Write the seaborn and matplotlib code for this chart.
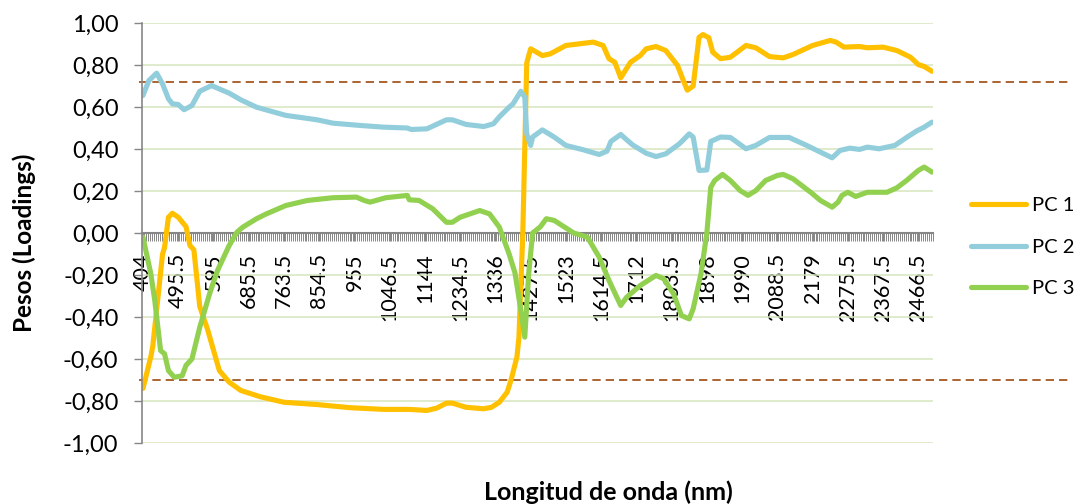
import numpy as np
import pandas as pd
import matplotlib
matplotlib.use("Agg")
import matplotlib.pyplot as plt
from matplotlib.ticker import FixedLocator, MultipleLocator, FuncFormatter
import seaborn as sns

# Wavelength labels shown on the category axis (one every 18 samples)
wavelength_labels = ["404", "495.5", "595", "685.5", "763.5", "854.5", "955",
                     "1046.5", "1144", "1234.5", "1336", "1427.5", "1523",
                     "1614.5", "1712", "1803.5", "1898", "1990", "2088.5",
                     "2179", "2275.5", "2367.5", "2466.5"]
n_samples = 404
label_step = 18

# Loadings of each principal component (sample index, weight)
pc1_idx = [0, 4, 5, 10, 11, 13, 15, 18, 22, 24, 26, 29, 33, 37, 39, 44, 50, 60,
           72, 89, 106, 123, 136, 145, 150, 155, 158, 165, 174, 178, 182, 186,
           188, 191, 192, 194, 196, 198, 204, 208, 216, 230, 235, 238, 241, 244,
           249, 254, 257, 262, 267, 273, 276, 278, 281, 284, 286, 289, 291, 295,
           300, 308, 313, 320, 327, 332, 342, 351, 354, 358, 366, 370, 378, 385,
           392, 396, 399, 403]
pc1_val = [-0.74, -0.59, -0.54, -0.10, -0.07, 0.075, 0.094, 0.075, 0.03, -0.06,
           -0.08, -0.35, -0.46, -0.59, -0.655, -0.71, -0.75, -0.78, -0.806,
           -0.817, -0.832, -0.84, -0.84, -0.845, -0.834, -0.81, -0.81, -0.83,
           -0.837, -0.83, -0.806, -0.758, -0.70, -0.59, -0.50, 0.0, 0.81, 0.877,
           0.845, 0.853, 0.893, 0.909, 0.893, 0.83, 0.813, 0.739, 0.813, 0.845,
           0.877, 0.888, 0.869, 0.798, 0.726, 0.68, 0.70, 0.932, 0.945, 0.93,
           0.861, 0.83, 0.837, 0.893, 0.882, 0.84, 0.834, 0.85, 0.893, 0.917,
           0.909, 0.885, 0.888, 0.882, 0.885, 0.869, 0.837, 0.802, 0.793, 0.77]

pc2_idx = [0, 3, 7, 10, 13, 15, 18, 21, 25, 29, 35, 38, 44, 50, 58, 73, 89, 97,
           111, 123, 135, 137, 145, 155, 158, 165, 174, 179, 182, 187, 189, 193,
           195, 196, 198, 199, 204, 210, 216, 225, 233, 237, 239, 244, 250, 257,
           262, 267, 274, 279, 281, 284, 288, 290, 295, 300, 308, 313, 320, 330,
           339, 346, 352, 356, 361, 366, 370, 376, 384, 390, 395, 399, 403]
pc2_val = [0.655, 0.726, 0.761, 0.71, 0.639, 0.615, 0.612, 0.587, 0.607, 0.675,
           0.702, 0.69, 0.666, 0.634, 0.599, 0.56, 0.539, 0.523, 0.512, 0.504,
           0.50, 0.493, 0.496, 0.539, 0.539, 0.517, 0.507, 0.52, 0.553, 0.599,
           0.615, 0.675, 0.647, 0.472, 0.417, 0.457, 0.491, 0.457, 0.417, 0.396,
           0.374, 0.39, 0.436, 0.469, 0.42, 0.38, 0.364, 0.377, 0.425, 0.472,
           0.457, 0.298, 0.30, 0.436, 0.457, 0.455, 0.401, 0.417, 0.455, 0.455,
           0.417, 0.385, 0.358, 0.393, 0.404, 0.398, 0.409, 0.401, 0.417, 0.455,
           0.485, 0.504, 0.528]

pc3_idx = [0, 4, 6, 9, 11, 13, 16, 20, 22, 25, 29, 34, 38, 42, 44, 48, 51, 58,
           63, 73, 84, 97, 109, 113, 116, 124, 135, 136, 141, 148, 155, 158, 162,
           172, 177, 182, 187, 190, 193, 195, 197, 199, 203, 206, 210, 215, 220,
           227, 233, 238, 244, 247, 254, 262, 266, 271, 275, 279, 281, 285, 288,
           290, 292, 296, 300, 305, 309, 313, 318, 324, 327, 332, 341, 346, 352,
           355, 357, 360, 364, 370, 380, 385, 390, 396, 399, 403]
pc3_val = [-0.02, -0.194, -0.32, -0.56, -0.575, -0.655, -0.687, -0.68, -0.63,
           -0.60, -0.449, -0.29, -0.18, -0.10, -0.06, 0.004, 0.028, 0.068, 0.091,
           0.131, 0.155, 0.168, 0.171, 0.155, 0.147, 0.168, 0.179, 0.158, 0.155,
           0.115, 0.051, 0.051, 0.075, 0.107, 0.091, 0.028, -0.10, -0.19, -0.369,
           -0.496, -0.194, 0.0, 0.03, 0.068, 0.06, 0.03, 0.0, -0.02, -0.115,
           -0.226, -0.345, -0.306, -0.25, -0.202, -0.218, -0.29, -0.393, -0.409,
           -0.361, -0.194, 0.0, 0.218, 0.25, 0.279, 0.25, 0.202, 0.179, 0.202,
           0.25, 0.274, 0.279, 0.258, 0.194, 0.155, 0.123, 0.147, 0.179, 0.194,
           0.174, 0.194, 0.194, 0.215, 0.25, 0.298, 0.314, 0.29]

series_names = ["PC 1", "PC 2", "PC 3"]
thresholds = [0.72, -0.70]

df = pd.concat([
    pd.DataFrame({"idx": pc1_idx, "peso": pc1_val, "serie": series_names[0]}),
    pd.DataFrame({"idx": pc2_idx, "peso": pc2_val, "serie": series_names[1]}),
    pd.DataFrame({"idx": pc3_idx, "peso": pc3_val, "serie": series_names[2]}),
], ignore_index=True)

sns.set_theme(style="white")
plt.rcParams["font.family"] = ["Lato", "DejaVu Sans"]
plt.rcParams["text.color"] = "black"
plt.rcParams["xtick.color"] = "black"
plt.rcParams["ytick.color"] = "black"

W, H = 1084, 504
fig = plt.figure(figsize=(W / 100, H / 100), dpi=100)
left, right, top, bottom = 142, 933, 23, 443
ax = fig.add_axes([left / W, 1 - bottom / H, (right - left) / W, (bottom - top) / H])

palette = {"PC 1": "#FFC000", "PC 2": "#92CDDC", "PC 3": "#92D050"}
line_w = 3.7
sns.lineplot(data=df, x="idx", y="peso", hue="serie", hue_order=series_names,
             palette=palette, linewidth=line_w, estimator=None, sort=True,
             ax=ax, legend=True, solid_capstyle="round", solid_joinstyle="round")

# Threshold lines, running out past the plot into the legend column
for t in thresholds:
    ax.axhline(t, xmin=-0.004, xmax=(1072 - left) / (right - left),
               color="#9C4A0E", lw=1.2, ls=(0, (5, 3)), clip_on=False, zorder=1)

ax.set_xlim(-0.5, n_samples - 0.5)
ax.set_ylim(-1.0, 1.0)
ax.yaxis.set_major_locator(MultipleLocator(0.2))
ax.yaxis.set_major_formatter(FuncFormatter(lambda v, p: f"{v:.2f}".replace(".", ",")))
ax.grid(axis="y", color="#D7E4BD", lw=1.1)
ax.grid(axis="x", visible=False)
ax.set_axisbelow(True)

for s in ["top", "right"]:
    ax.spines[s].set_visible(False)
ax.spines["left"].set_color("#868686")
ax.spines["left"].set_linewidth(1.2)
ax.spines["bottom"].set_position(("data", 0))
ax.spines["bottom"].set_color("#868686")
ax.spines["bottom"].set_linewidth(1.5)
ax.spines["bottom"].set_zorder(1.5)

ax.set_xticks(range(0, label_step * len(wavelength_labels), label_step))
ax.set_xticklabels(wavelength_labels, rotation=90, fontsize=15.5)
ax.xaxis.set_minor_locator(FixedLocator(np.arange(-0.5, n_samples, 1.0)))
ax.tick_params(axis="x", which="both", direction="out", length=6, width=0.7,
               color="#868686", pad=8.5, bottom=True)
ax.tick_params(axis="y", which="major", direction="out", length=6, width=1.0,
               color="#868686", labelsize=17, pad=11, left=True)

ax.set_xlabel("")
ax.set_ylabel("")
fig.text(24 / W, 1 - 243 / H, "Pesos (Loadings)", rotation=90, ha="center",
         va="center", fontsize=17.5, fontweight="bold")
fig.text(608 / W, 1 - 492 / H, "Longitud de onda (nm)", ha="center",
         va="center", fontsize=18, fontweight="bold")

handles, labels = ax.get_legend_handles_labels()
for h in handles:
    h.set_linewidth(line_w)
    h.set_solid_capstyle("round")
ax.legend(handles, labels, loc="center left", bbox_to_anchor=(971 / W, 1 - 247 / H),
          bbox_transform=fig.transFigure, frameon=False, fontsize=14.5,
          handlelength=2.75, handletextpad=0.3, labelspacing=1.2,
          borderpad=0, borderaxespad=0)

fig.savefig("out.png", dpi=100)
